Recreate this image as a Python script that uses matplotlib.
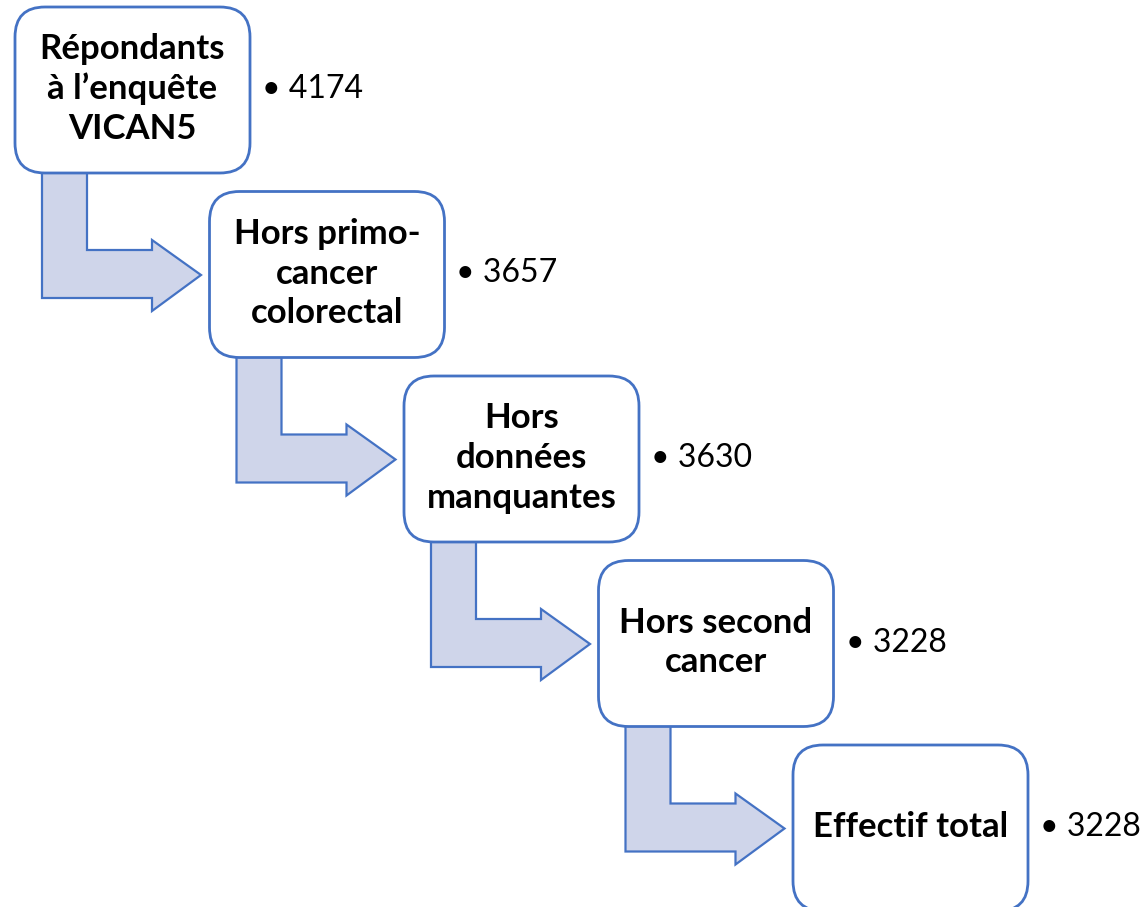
import matplotlib.pyplot as plt
from matplotlib.patches import FancyBboxPatch, Polygon

# étapes du diagramme de flux
steps = ["Répondants\nà l’enquête\nVICAN5",
         "Hors primo-\ncancer\ncolorectal",
         "Hors\ndonnées\nmanquantes",
         "Hors second\ncancer",
         "Effectif total"]
counts = [4174, 3657, 3630, 3228, 3228]

blue = "#4472C4"
light = "#CFD5EA"
font = "Lato"

W, H = 1142, 907
fig = plt.figure(figsize=(W / 100, H / 100), dpi=100)
ax = fig.add_axes([0, 0, 1, 1])
ax.set_xlim(0, W)
ax.set_ylim(H, 0)
ax.axis("off")

bw, bh = 235, 166
x0, y0 = 15, 7
dx, dy = 194.5, 184.5

for i, (lab, n) in enumerate(zip(steps, counts)):
    bx = x0 + i * dx
    by = y0 + i * dy
    box = FancyBboxPatch((bx, by), bw, bh, boxstyle="round,pad=0,rounding_size=30",
                         fc="white", ec=blue, lw=2, zorder=3)
    ax.add_patch(box)
    ax.text(bx + bw / 2, by + 82, lab, ha="center", va="center",
            fontsize=25, fontweight="bold", family=font, linespacing=1.3, zorder=4)
    ax.text(bx + bw + 12, by + 82, "• " + str(n), ha="left", va="center",
            fontsize=23, family=font, zorder=4)
    if i < len(steps) - 1:
        pts = [(bx + 27, by + 163), (bx + 72, by + 163), (bx + 72, by + 243),
               (bx + 137, by + 243), (bx + 137, by + 233), (bx + 186, by + 268),
               (bx + 137, by + 304), (bx + 137, by + 291), (bx + 27, by + 291)]
        ax.add_patch(Polygon(pts, closed=True, fc=light, ec=blue, lw=1.6, zorder=2))

fig.savefig("out.png", dpi=100)
